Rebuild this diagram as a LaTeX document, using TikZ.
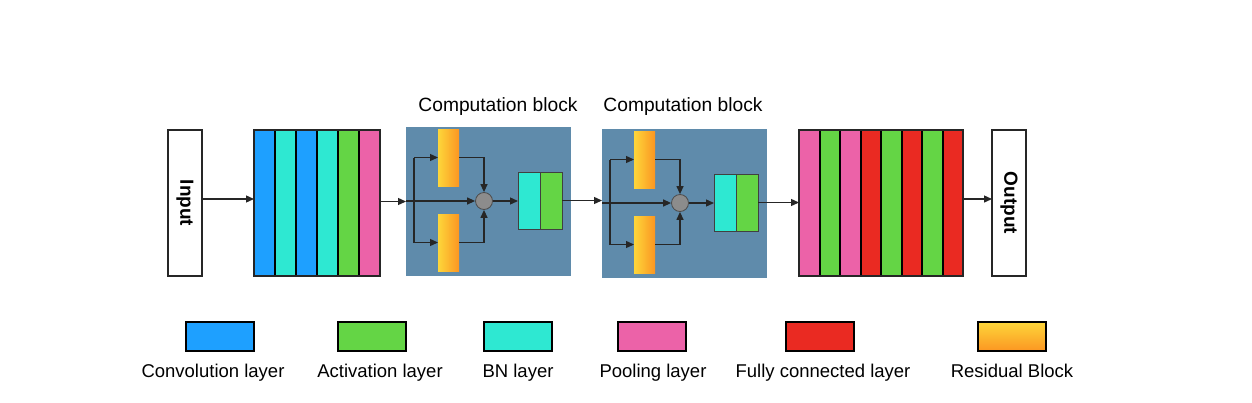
\documentclass[tikz,border=0pt]{standalone}
\usepackage{fontspec}
\setmainfont{Liberation Sans}
\usetikzlibrary{arrows.meta,calc}
\definecolor{conv}{HTML}{1EA0FF}
\definecolor{bnc}{HTML}{2EE8D2}
\definecolor{actc}{HTML}{64D545}
\definecolor{poolc}{HTML}{EC62A8}
\definecolor{fcc}{HTML}{EA2A22}
\definecolor{blockc}{HTML}{5F8BAB}
\definecolor{resY}{HTML}{FDD63A}
\definecolor{resO}{HTML}{FC9622}
\definecolor{sumc}{HTML}{8C8C8C}
\begin{document}
\begin{tikzpicture}[x=1pt,y=-1pt,
  bar/.style={draw=black, line width=2pt, inner sep=0pt, outer sep=0pt, anchor=north west, minimum height=146, minimum width=#1},
  stackframe/.style={draw=black!85, line width=2pt, inner sep=0pt, outer sep=0pt, anchor=north west, minimum height=146, minimum width=#1},
  io/.style={draw=black!85, line width=1.2pt, fill=white, inner sep=0pt, outer sep=0pt, anchor=north west, minimum width=34, minimum height=146},
  iotext/.style={rotate=-90, font=\bfseries\fontsize{19}{22}\selectfont, inner sep=0pt},
  arr/.style={-{Triangle[length=8pt,width=7pt]}, line width=1.3pt, draw=black!85},
  ln/.style={line width=1.3pt, draw=black!85},
  lbl/.style={font=\fontsize{18.5}{22}\selectfont, inner sep=0pt, anchor=base},
  ttl/.style={font=\fontsize{19.2}{22}\selectfont, inner sep=0pt, anchor=base},
  bgbox/.style={fill=blockc, inner sep=0pt, outer sep=0pt, anchor=north west, minimum width=165, minimum height=149},
  resbox/.style={left color=resY, right color=resO, inner sep=0pt, outer sep=0pt, anchor=north west, minimum width=21, minimum height=57},
  sumnode/.style={circle, fill=sumc, draw=black!70, line width=0.8pt, minimum size=17, inner sep=0pt},
  pairbox/.style={draw=black!75, line width=1pt, inner sep=0pt, outer sep=0pt, anchor=north west, minimum width=22, minimum height=57},
  legbox/.style={draw=black, line width=1.5pt, inner sep=0pt, outer sep=0pt, anchor=north west, minimum width=68, minimum height=29}
]
\useasboundingbox (0,0) rectangle (1252,402);

% Input
\node[io] (in) at (168,130) {};
\node[iotext] (inlbl) at (in.center) {Input};

% Stack 1
\foreach \c [count=\k from 0] in {conv,bnc,conv,bnc,actc,poolc}
  \node[bar=21, fill=\c] (s1b\k) at ({254+21*\k},130) {};
\node[stackframe=126] (s1) at (254,130) {};

% Computation blocks
\foreach \ox/\oy/\n in {0/0/A,196/2/B}{
  \node[bgbox] (bg\n) at (406+\ox,127+\oy) {};
  \node[resbox] (rt\n) at (438+\ox,129+\oy) {};
  \node[resbox] (rb\n) at (438+\ox,214+\oy) {};
  \node[sumnode] (c\n) at (484+\ox,201+\oy) {};
  \node[pairbox, fill=bnc] (bn\n) at (518+\ox,172+\oy) {};
  \node[pairbox, fill=actc] (ac\n) at (540+\ox,172+\oy) {};
  \coordinate (br\n) at (414+\ox,201+\oy);
  \draw[arr] (bg\n.west |- c\n) -- (c\n.west);
  \draw[ln] (br\n |- rt\n.west) -- (br\n |- rb\n.west);
  \draw[arr] (br\n |- rt\n.west) -- (rt\n.west);
  \draw[arr] (br\n |- rb\n.west) -- (rb\n.west);
  \draw[arr] (rt\n.east) -| (c\n.north);
  \draw[arr] (rb\n.east) -| (c\n.south);
  \draw[arr] (c\n.east) -- (bn\n.west |- c\n);
}
\node[ttl] (tA) at (498,111) {Computation block};
\node[ttl] (tB) at (683,111) {Computation block};

% Stack 2
\foreach \c [count=\k from 0] in {poolc,actc,poolc,fcc,actc,fcc,actc,fcc}
  \node[bar=20.5, fill=\c] (s2b\k) at ({799+20.5*\k},130) {};
\node[stackframe=164] (s2) at (799,130) {};

% Output
\node[io] (out) at (992,130) {};
\node[iotext] (outlbl) at (out.center) {Output};

% Connectors
\draw[arr] ([yshift=4pt]in.east) -- ([yshift=4pt]s1.east -| s1.west);
\draw[arr] (s1.east |- bgA.west) -- (bgA.west);
\draw[arr] (acA.east) -- (bgB.west |- acA.east);
\draw[arr] (acB.east) -- (s2.west |- acB.east);
\draw[arr] ([yshift=4pt]s2.east) -- ([yshift=4pt]out.west);

% Legend
\node[legbox, fill=conv] (l1) at (186,322) {};
\node[legbox, fill=actc] (l2) at (338,322) {};
\node[legbox, fill=bnc] (l3) at (484,322) {};
\node[legbox, fill=poolc] (l4) at (618,322) {};
\node[legbox, fill=fcc] (l5) at (786,322) {};
\node[legbox, top color=resY, bottom color=resO] (l6) at (978,322) {};
\node[lbl] (t1) at (213,377) {Convolution layer};
\node[lbl] (t2) at (380,377) {Activation layer};
\node[lbl] (t3) at (518,377) {BN layer};
\node[lbl] (t4) at (653,377) {Pooling layer};
\node[lbl] (t5) at (823,377) {Fully connected layer};
\node[lbl] (t6) at (1012,377) {Residual Block};
\end{tikzpicture}
\end{document}
